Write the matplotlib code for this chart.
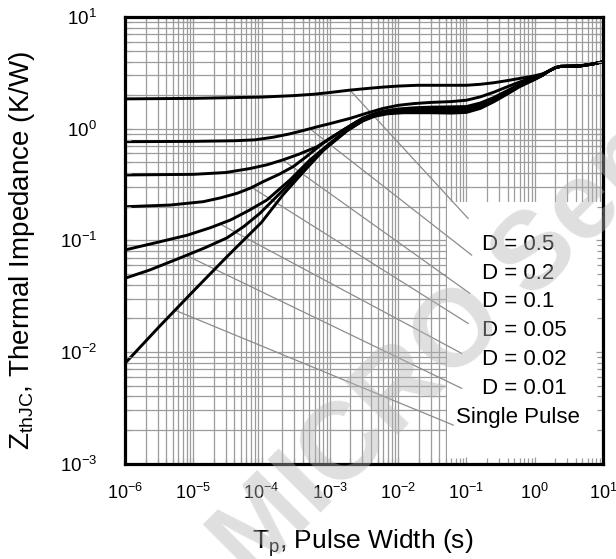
import numpy as np
import matplotlib
matplotlib.use("Agg")
import matplotlib.pyplot as plt
from matplotlib.patches import Rectangle
from matplotlib.ticker import LogLocator, LogFormatterSciNotation, NullFormatter

plt.rcParams['font.family'] = ['Liberation Sans', 'DejaVu Sans']
plt.rcParams['mathtext.fontset'] = 'custom'
plt.rcParams['mathtext.rm'] = 'Liberation Sans'
plt.rcParams['mathtext.it'] = 'Liberation Sans:italic'
plt.rcParams['mathtext.bf'] = 'Liberation Sans:bold'
plt.rcParams['mathtext.default'] = 'regular'
plt.rcParams['axes.unicode_minus'] = False

# ---- data ----
tail_t = [2.4, 3.0, 4.6, 7.1, 10.0]
tail_z = [3.62, 3.63, 3.65, 3.80, 3.98]

t_d50 = [1e-6, 1e-5, 1e-4, 3e-4, 6e-4, 1e-3, 2e-3, 4e-3, 6e-3, 1e-2, 1.9e-2, 5e-2, 1e-1,
         1.6e-1, 2.5e-1, 4e-1, 6e-1, 1.0, 1.3, 1.6, 2.0]
z_d50 = [1.85, 1.87, 1.92, 1.98, 2.04, 2.11, 2.22, 2.31, 2.36, 2.41, 2.45, 2.45, 2.45,
         2.50, 2.58, 2.70, 2.82, 2.98, 3.10, 3.28, 3.52]

t_d20 = [1e-6, 1e-5, 4e-5, 8e-5, 1.5e-4, 2.5e-4, 4e-4, 6.5e-4, 1e-3, 2e-3, 3.5e-3, 6e-3, 1e-2,
         1.7e-2, 3e-2, 6e-2, 1e-1, 1.6e-1, 2.5e-1, 4e-1, 6e-1, 1.0, 1.3, 1.6, 2.0]
z_d20 = [0.765, 0.77, 0.78, 0.795, 0.84, 0.895, 0.96, 1.04, 1.11, 1.24, 1.38, 1.52, 1.62,
         1.68, 1.72, 1.75, 1.80, 1.93, 2.12, 2.38, 2.62, 2.92, 3.08, 3.28, 3.52]

t_d10 = [1e-6, 1e-5, 3e-5, 6.8e-5, 1.2e-4, 2.05e-4, 3.5e-4, 6.5e-4, 1e-3, 1.6e-3, 2.5e-3, 4e-3,
         6e-3, 1e-2, 1.7e-2, 3e-2, 6e-2, 1e-1, 1.6e-1, 2.5e-1, 4e-1, 6e-1, 1.0, 1.3, 1.6, 2.0]
z_d10 = [0.385, 0.39, 0.405, 0.44, 0.475, 0.525, 0.59, 0.69, 0.82, 0.98, 1.16, 1.32,
         1.43, 1.50, 1.54, 1.56, 1.57, 1.58, 1.70, 1.90, 2.20, 2.50, 2.85, 3.05, 3.28, 3.52]

t_d05 = [1e-6, 4.6e-6, 1.4e-5, 2.5e-5, 4.4e-5, 7e-5, 1.05e-4, 1.8e-4, 2.9e-4, 4.5e-4, 7.9e-4,
         1.55e-3, 3e-3, 5e-3, 7.6e-3, 1.2e-2, 2e-2, 5e-2, 1e-1, 1.6e-1, 2.5e-1, 4e-1, 6e-1,
         1.0, 1.3, 1.6, 2.0]
z_d05 = [0.20, 0.207, 0.222, 0.24, 0.264, 0.295, 0.335, 0.39, 0.457, 0.56, 0.74,
         0.97, 1.24, 1.39, 1.46, 1.50, 1.51, 1.51, 1.51, 1.63, 1.84, 2.14, 2.45,
         2.82, 3.03, 3.28, 3.52]

t_d02 = [1e-6, 2.6e-6, 8.1e-6, 1.8e-5, 3.5e-5, 6.5e-5, 1.2e-4, 2.6e-4, 5.1e-4, 1e-3, 1.6e-3,
         2.75e-3, 4e-3, 6e-3, 1e-2, 2e-2, 5e-2, 1e-1, 1.6e-1, 2.5e-1, 4e-1, 6e-1, 1.0, 1.3,
         1.6, 2.0]
z_d02 = [0.082, 0.094, 0.111, 0.13, 0.152, 0.185, 0.23, 0.347, 0.524, 0.74, 0.93,
         1.18, 1.32, 1.41, 1.46, 1.47, 1.45, 1.46, 1.58, 1.80, 2.10, 2.42, 2.80, 3.02,
         3.28, 3.52]

t_d01 = [1e-6, 2.3e-6, 7.1e-6, 1.5e-5, 3.1e-5, 5.5e-5, 9.5e-5, 2.05e-4, 4.1e-4, 9.1e-4,
         1.8e-3, 3.5e-3, 5.5e-3, 8e-3, 1.4e-2, 3e-2, 6e-2, 1e-1, 1.6e-1, 2.5e-1, 4e-1, 6e-1,
         1.0, 1.3, 1.6, 2.0]
z_d01 = [0.0457, 0.0542, 0.0713, 0.086, 0.105, 0.133, 0.175, 0.28, 0.43, 0.69,
         0.97, 1.24, 1.36, 1.42, 1.44, 1.43, 1.42, 1.43, 1.55, 1.77, 2.08, 2.40,
         2.78, 3.01, 3.28, 3.52]

t_sp = [1e-6, 3.16e-6, 1e-5, 3.16e-5, 1e-4, 2.05e-4, 4.1e-4, 8e-4, 1.8e-3, 3e-3, 4.5e-3, 7e-3,
        1.2e-2, 3e-2, 6e-2, 1e-1, 1.6e-1, 2.5e-1, 4e-1, 6e-1, 1.0, 1.3, 1.6, 2.0]
z_sp = [0.0079, 0.0168, 0.035, 0.072, 0.145, 0.255, 0.41, 0.64, 0.96, 1.17, 1.29, 1.36,
        1.39, 1.39, 1.38, 1.40, 1.52, 1.74, 2.05, 2.38, 2.76, 3.00, 3.28, 3.52]

labels = ["D = 0.5", "D = 0.2", "D = 0.1", "D = 0.05", "D = 0.02", "D = 0.01", "Single Pulse"]
curves_t = [t_d50, t_d20, t_d10, t_d05, t_d02, t_d01, t_sp]
curves_z = [z_d50, z_d20, z_d10, z_d05, z_d02, z_d01, z_sp]

# leader lines: start time on curve, end point near label
lead_t0 = [1.97e-3, 5.1e-4, 2.05e-4, 7.2e-5, 2.46e-5, 7.9e-6, 5.4e-6]
lead_t1 = [0.106, 0.119, 0.112, 0.106, 0.0851, 0.0851, 0.0641]
lead_z1 = [0.157, 0.0738, 0.0335, 0.0180, 0.0097, 0.00472, 0.00221]

xlim = (1e-6, 1e1)
ylim = (1e-3, 1e1)

fig = plt.figure(figsize=(6.16, 5.59), dpi=100)
pos = [0.2029, 0.1708, 0.776, 0.7986]
ax = fig.add_axes(pos)
ax.set_xscale('log')
ax.set_yscale('log')
ax.set_xlim(*xlim)
ax.set_ylim(*ylim)
ax.set_axisbelow(True)

for a in (ax.xaxis, ax.yaxis):
    a.set_major_locator(LogLocator(base=10, numticks=20))
    a.set_minor_locator(LogLocator(base=10, subs=np.arange(2, 10), numticks=20))
ax.grid(True, which='both', color='#9c9c9c', lw=0.9)
ax.tick_params(which='both', length=0, labelleft=False, labelbottom=False)
for s in ax.spines.values():
    s.set_visible(False)

# white legend box hiding grid
ax.add_patch(Rectangle((0.673, 0.0), 0.327, 0.5865, transform=ax.transAxes,
                       facecolor='white', edgecolor='none', zorder=1))

for tt, zz in zip(curves_t, curves_z):
    ax.plot(list(tt) + tail_t, list(zz) + tail_z, color='black', lw=2.1, zorder=3,
            solid_joinstyle='round')

for tt, zz, t0, t1, z1 in zip(curves_t, curves_z, lead_t0, lead_t1, lead_z1):
    z0 = 10 ** np.interp(np.log10(t0), np.log10(tt), np.log10(zz))
    ax.plot([t0, t1], [z0, z1], color='#8c8c8c', lw=0.9, zorder=2.5)

ytop = 0.491
dy = 0.0645
for i, lab in enumerate(labels):
    xx = 0.692 if lab == "Single Pulse" else 0.746
    ax.text(xx, ytop - i * dy, lab, transform=ax.transAxes, fontsize=16,
            ha='left', va='center', zorder=4)

# overlay axes for frame, ticks and tick labels
ax2 = fig.add_axes(pos, sharex=ax, sharey=ax)
ax2.patch.set_visible(False)
ax2.set_xscale('log')
ax2.set_yscale('log')
ax2.set_xlim(*xlim)
ax2.set_ylim(*ylim)
for a in (ax2.xaxis, ax2.yaxis):
    a.set_major_locator(LogLocator(base=10, numticks=20))
    a.set_minor_locator(LogLocator(base=10, subs=np.arange(2, 10), numticks=20))
    a.set_major_formatter(LogFormatterSciNotation())
    a.set_minor_formatter(NullFormatter())
ax2.tick_params(which='both', direction='in', top=True, right=True, color='#9c9c9c', width=0.9)
ax2.tick_params(which='major', length=5)
ax2.tick_params(which='minor', length=4)
ax2.tick_params(axis='x', which='major', pad=14, labelsize=13)
ax2.tick_params(axis='y', which='major', pad=20, labelsize=13.5)
for s in ax2.spines.values():
    s.set_linewidth(2.3)
    s.set_color('black')
# keep the last x tick label inside the canvas
fig.canvas.draw()
xt = ax2.xaxis.get_majorticklabels()
if xt:
    xt[-1].set_horizontalalignment('right')
    xt[-1].set_x(xt[-1].get_position()[0])

ax2.set_xlabel(r'T$_{\mathrm{p}}$, Pulse Width (s)', fontsize=19)
ax2.xaxis.set_label_coords(0.498, -0.142)
ax2.set_ylabel(r'Z$_{\mathrm{thJC}}$, Thermal Impedance (K/W)', fontsize=20)
ax2.yaxis.set_label_coords(-0.184, 0.478)

# watermark
fig.text(0.408, -0.042, "MICRO Semi", rotation=45, rotation_mode='anchor',
         ha='left', va='baseline', fontsize=79, fontweight='bold',
         family='Liberation Sans', color='#b4b4b4', alpha=0.42, zorder=20)

fig.savefig('out.png', dpi=100)
